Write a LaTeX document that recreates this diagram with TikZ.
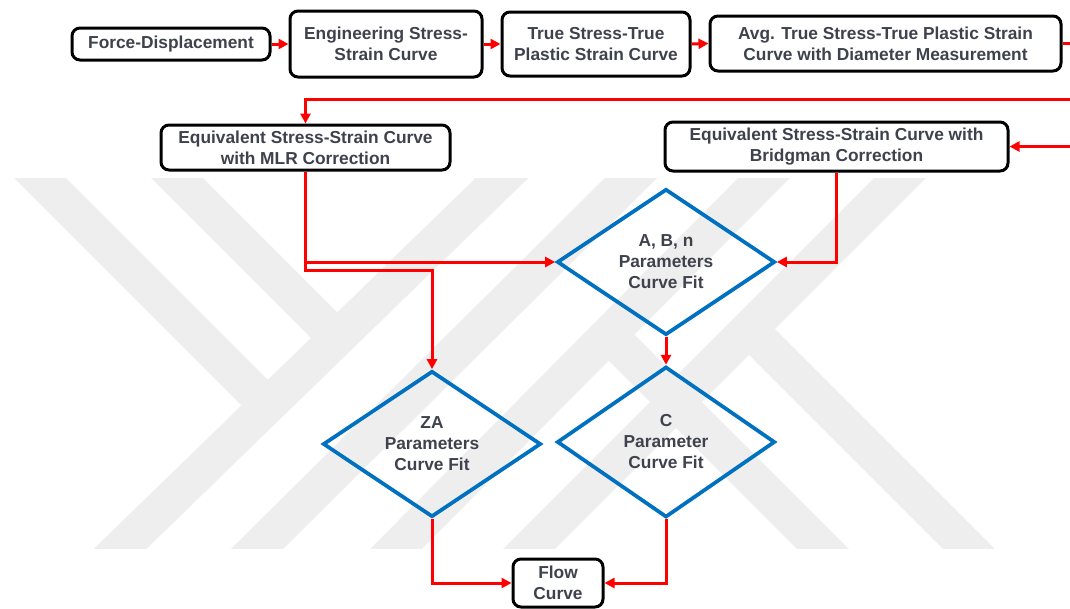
\documentclass[tikz,border=0pt]{standalone}
\usepackage{fontspec}
\setmainfont{Liberation Sans}
\usetikzlibrary{shapes.geometric,arrows.meta}
\definecolor{txt}{RGB}{62,66,76}
\definecolor{wm}{RGB}{238,238,238}
\definecolor{dblue}{RGB}{0,112,192}
\begin{document}
\begin{tikzpicture}[x=0.75pt,y=-0.75pt,
  lbl/.style={font=\fontsize{13}{15.75}\selectfont\bfseries, text=txt, align=center},
  box/.style={lbl, draw=black, line width=2.25pt, rounded corners=6pt, inner sep=0pt, fill=white},
  dia/.style={lbl, diamond, draw=dblue, line width=2.8pt, inner sep=0pt, aspect=1.5,
              minimum width=163.5pt, minimum height=109.5pt},
  redline/.style={draw=red, line width=2.25pt},
  conn/.style={redline, -{Triangle[length=7.5pt,width=7.5pt]}},
  wmstripe/.style={draw=wm, line width=27.5pt, line cap=butt}
]
\useasboundingbox (0,0) rectangle (1070,608);
\clip (0,0) rectangle (1070,608);
\fill[white] (0,0) rectangle (1070,608);

% watermark
\begin{scope}
\clip (0,178) rectangle (1070,548);
\draw[wmstripe] (100.4,568) -- (522.6,158);
\draw[wmstripe] (237.8,568) -- (651.2,158);
\draw[wmstripe] (377.2,568) -- (783.8,158);
\draw[wmstripe] (510,568) -- (920,158);
\draw[wmstripe] (20,158) -- (267.6,405.6);
\draw[wmstripe] (157,158) -- (337.1,338.1);
\draw[wmstripe] (749,329) -- (988,568);
\draw[wmstripe] (608.6,334.6) -- (842,568);
\end{scope}

% nodes
\node[box, minimum width=148.5pt, minimum height=24pt] (fd) at (171,44) {Force-Displacement};
\node[box, minimum width=144pt, minimum height=49.5pt] (eng) at (386,44) {Engineering Stress-\\Strain Curve};
\node[box, minimum width=141pt, minimum height=48pt] (tru) at (596,44) {True Stress-True\\Plastic Strain Curve};
\node[box, minimum width=263.25pt, minimum height=41.25pt] (avg) at (885.5,43.5) {Avg. True Stress-True Plastic Strain\\Curve with Diameter Measurement};
\node[box, minimum width=216.75pt, minimum height=33.75pt] (mlr) at (305.5,147.5) {Equivalent Stress-Strain Curve\\with MLR Correction};
\node[box, minimum width=257.25pt, minimum height=36.75pt] (brd) at (836.5,146.5) {Equivalent Stress-Strain Curve with\\Bridgman Correction};
\node[dia] (abn) at (666,262) {A, B, n\\Parameters\\Curve Fit};
\node[dia] (za) at (432,444) {ZA\\Parameters\\Curve Fit};
\node[dia, minimum height=113pt] (cfit) at (666,442) {C\\Parameter\\Curve Fit};
\node[box, minimum width=67.5pt, minimum height=36pt] (flow) at (558,583) {Flow\\Curve};

% off-picture routing points
\coordinate (r1) at (1090,43.5);
\coordinate (r2) at (1090,99);
\coordinate (sp) at (305.5,270);

% connectors
\draw[conn] (fd.east) -- (eng.west);
\draw[conn] (eng.east) -- (tru.west);
\draw[conn] (tru.east) -- (avg.west);
\draw[redline] (avg.east) -- (r1) -- (r2);
\draw[conn] (r2) -| (mlr.north);
\draw[conn] (r2) |- (brd.east);
\draw[conn] (mlr.south) |- (abn.west);
\draw[conn] (mlr.south) -- (sp) -| (za.north);
\draw[conn] (brd.south) |- (abn.east);
\draw[conn] (abn.south) -- (cfit.north);
\draw[conn] (za.south) |- (flow.west);
\draw[conn] (cfit.south) |- (flow.east);
\end{tikzpicture}
\end{document}
